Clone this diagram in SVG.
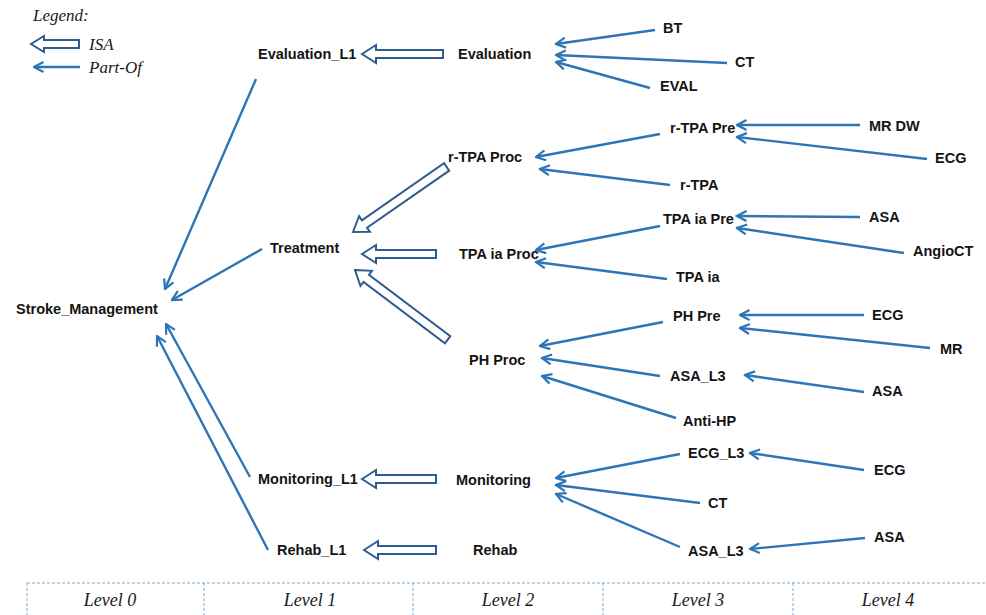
<svg xmlns="http://www.w3.org/2000/svg" width="986" height="615" viewBox="0 0 986 615">
  <style>
    .n { font-family: "Liberation Sans", Arial, sans-serif; font-weight: bold; font-size: 14.5px; fill: #141414; }
    .it { font-family: "Liberation Serif", "Times New Roman", serif; font-style: italic; font-size: 17px; fill: #1a1a1a; }
    .lvt { font-size: 18px; }
    .po { stroke: #2E75B6; stroke-width: 2.4; fill: none; marker-end: url(#chev); }
    .isa { stroke: #2F5C8F; stroke-width: 2; fill: #ffffff; stroke-linejoin: miter; }
    .lv { stroke: #7FA7CF; stroke-width: 1; stroke-dasharray: 3 2; fill: none; }
  </style>
  <defs>
    <marker id="chev" viewBox="0 0 12 12" refX="10.5" refY="6" markerWidth="12" markerHeight="12" markerUnits="userSpaceOnUse" orient="auto">
      <path d="M1,1 L10.5,6 L1,11" fill="none" stroke="#2E75B6" stroke-width="2.2"/>
    </marker>
  </defs>

  <!-- legend -->
  <g id="legend">
    <text class="it" x="33" y="21" font-size="14.5">Legend:</text>
    <polygon class="isa" points="0,0 13,-8 13,-4 48,-4 48,4 13,4 13,8" transform="translate(31,44)"/>
    <text class="it" x="89" y="50">ISA</text>
    <line class="po" x1="80" y1="67" x2="34" y2="67"/>
    <text class="it" x="89" y="73">Part-Of</text>
  </g>

  <!-- nodes -->
  <g id="stroke_management"><text class="n" x="16" y="314">Stroke_Management</text></g>
  <g id="evaluation_l1"><text class="n" x="258" y="59">Evaluation_L1</text></g>
  <g id="treatment"><text class="n" x="270" y="253">Treatment</text></g>
  <g id="monitoring_l1"><text class="n" x="258" y="484">Monitoring_L1</text></g>
  <g id="rehab_l1"><text class="n" x="277" y="555">Rehab_L1</text></g>

  <g id="evaluation"><text class="n" x="458" y="59">Evaluation</text></g>
  <g id="rtpa_proc"><text class="n" x="448" y="162">r-TPA Proc</text></g>
  <g id="tpaia_proc"><text class="n" x="459" y="259">TPA ia Proc</text></g>
  <g id="ph_proc"><text class="n" x="469" y="365">PH Proc</text></g>
  <g id="monitoring"><text class="n" x="456" y="485">Monitoring</text></g>
  <g id="rehab"><text class="n" x="473" y="555">Rehab</text></g>

  <g id="bt"><text class="n" x="663" y="33">BT</text></g>
  <g id="ct_eval"><text class="n" x="735" y="67">CT</text></g>
  <g id="eval"><text class="n" x="660" y="91">EVAL</text></g>
  <g id="rtpa_pre"><text class="n" x="670" y="133">r-TPA Pre</text></g>
  <g id="rtpa"><text class="n" x="680" y="190">r-TPA</text></g>
  <g id="tpaia_pre"><text class="n" x="663" y="224">TPA ia Pre</text></g>
  <g id="tpaia"><text class="n" x="676" y="282">TPA ia</text></g>
  <g id="ph_pre"><text class="n" x="673" y="321">PH Pre</text></g>
  <g id="asa_l3_ph"><text class="n" x="670" y="381">ASA_L3</text></g>
  <g id="anti_hp"><text class="n" x="683" y="426">Anti-HP</text></g>
  <g id="ecg_l3"><text class="n" x="688" y="458">ECG_L3</text></g>
  <g id="ct_mon"><text class="n" x="708" y="508">CT</text></g>
  <g id="asa_l3_mon"><text class="n" x="688" y="556">ASA_L3</text></g>

  <g id="mr_dw"><text class="n" x="869" y="131">MR DW</text></g>
  <g id="ecg_rtpa"><text class="n" x="935" y="163">ECG</text></g>
  <g id="asa_tpaia"><text class="n" x="869" y="222">ASA</text></g>
  <g id="angioct"><text class="n" x="913" y="256">AngioCT</text></g>
  <g id="ecg_ph"><text class="n" x="872" y="320">ECG</text></g>
  <g id="mr"><text class="n" x="940" y="354">MR</text></g>
  <g id="asa_ph"><text class="n" x="872" y="396">ASA</text></g>
  <g id="ecg_mon"><text class="n" x="874" y="475">ECG</text></g>
  <g id="asa_mon"><text class="n" x="874" y="542">ASA</text></g>

  <!-- connectors -->
  <g id="connectors">
    <!-- ISA (hollow arrows) -->
    <polygon class="isa" points="0,0 14,-9 14,-4 81,-4 81,4 14,4 14,9" transform="translate(362,54)"/>
    <polygon class="isa" points="0,0 14,-9 14,-4 74,-4 74,4 14,4 14,9" transform="translate(362,254)"/>
    <polygon class="isa" points="0,0 14,-9 14,-4 74,-4 74,4 14,4 14,9" transform="translate(362,479)"/>
    <polygon class="isa" points="0,0 14,-9 14,-4 72,-4 72,4 14,4 14,9" transform="translate(364,550)"/>
    <polygon class="isa" points="0,0 14,-9.5 14,-4.5 114,-4.5 114,4.5 14,4.5 14,9.5" transform="translate(353,232) rotate(-34.8)"/>
    <polygon class="isa" points="0,0 14,-9.5 14,-4.5 116,-4.5 116,4.5 14,4.5 14,9.5" transform="translate(355,270) rotate(37)"/>

    <!-- Part-Of -->
    <line class="po" x1="655" y1="30" x2="556" y2="44"/>
    <line class="po" x1="727" y1="63" x2="556" y2="55"/>
    <line class="po" x1="650" y1="88" x2="556" y2="62"/>
    <line class="po" x1="860" y1="125" x2="737" y2="125"/>
    <line class="po" x1="927" y1="159" x2="737" y2="137"/>
    <line class="po" x1="660" y1="134" x2="536" y2="157"/>
    <line class="po" x1="670" y1="185" x2="540" y2="169"/>
    <line class="po" x1="860" y1="217" x2="737" y2="216"/>
    <line class="po" x1="904" y1="253" x2="737" y2="228"/>
    <line class="po" x1="660" y1="226" x2="536" y2="250"/>
    <line class="po" x1="667" y1="279" x2="536" y2="262"/>
    <line class="po" x1="864" y1="315" x2="740" y2="315"/>
    <line class="po" x1="930" y1="348" x2="740" y2="328"/>
    <line class="po" x1="663" y1="322" x2="540" y2="346"/>
    <line class="po" x1="864" y1="392" x2="745" y2="375"/>
    <line class="po" x1="660" y1="376" x2="542" y2="358"/>
    <line class="po" x1="676" y1="418" x2="542" y2="376"/>
    <line class="po" x1="864" y1="470" x2="750" y2="453"/>
    <line class="po" x1="680" y1="454" x2="556" y2="478"/>
    <line class="po" x1="700" y1="503" x2="556" y2="485"/>
    <line class="po" x1="680" y1="547" x2="556" y2="494"/>
    <line class="po" x1="865" y1="538" x2="750" y2="549"/>
    <line class="po" x1="256" y1="79" x2="165" y2="289"/>
    <line class="po" x1="262" y1="249" x2="172" y2="300"/>
    <line class="po" x1="250" y1="477" x2="166" y2="324"/>
    <line class="po" x1="268" y1="550" x2="157" y2="336"/>
  </g>

  <!-- level bar -->
  <g id="levels">
    <path class="lv" d="M27,583 H986 M27,583 V615 M204,583 V615 M413,583 V615 M603,583 V615 M793,583 V615"/>
    <text class="it lvt" x="110" y="606" text-anchor="middle">Level 0</text>
    <text class="it lvt" x="310" y="606" text-anchor="middle">Level 1</text>
    <text class="it lvt" x="508" y="606" text-anchor="middle">Level 2</text>
    <text class="it lvt" x="698" y="606" text-anchor="middle">Level 3</text>
    <text class="it lvt" x="888" y="606" text-anchor="middle">Level 4</text>
  </g>
</svg>
